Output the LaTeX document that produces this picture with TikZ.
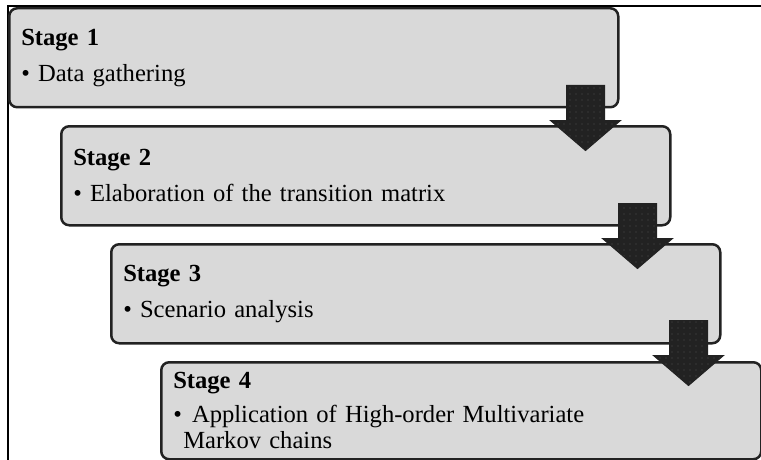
\documentclass[tikz,border=0pt]{standalone}
\usepackage{fontspec}
\setmainfont{Liberation Serif}
\usetikzlibrary{calc,patterns.meta}
\definecolor{boxgray}{HTML}{D9D9D9}
\definecolor{arrowdark}{HTML}{222222}
\tikzset{
  stagebox/.style={draw=arrowdark, line width=2.5pt, fill=boxgray, rounded corners=8pt,
    anchor=north west, minimum height=99pt, text width=585pt, inner xsep=12pt,
    align=left, font=\fontsize{24.6}{26}\selectfont},
  downarrow/.pic={
    \draw[arrowdark, line width=1pt, preaction={fill=arrowdark},
      pattern={Dots[distance=6pt,radius=0.45pt]}, pattern color=gray!70]
      (-19,0) -- (19,0) -- (19,35) -- (35,35) -- (0,65) -- (-35,35) -- (-19,35) -- cycle;}
}
\begin{document}
\begin{tikzpicture}[x=1pt,y=-1pt]
    \useasboundingbox (0,0) rectangle (761,460);
    % frame
    \draw[line width=1.2pt] (761,6) -- (8,6) -- (8,460);
    % stages
    \node[stagebox] (s1) at (8,7) {\textbf{Stage 1}\\[10pt]\textbullet{} Data gathering};
    \node[stagebox] (s2) at (60,125) {\textbf{Stage 2}\\[10pt]\textbullet{} Elaboration of the transition matrix};
    \node[stagebox] (s3) at (110,243) {\textbf{Stage 3}\\[10pt]\textbullet{} Scenario analysis};
    \node[stagebox, text width=576pt, minimum height=97pt] (s4) at (160,361)
      {\textbf{Stage 4}\\[8pt]\textbullet{} \kern2pt Application of High-order Multivariate\\\hspace*{10pt}Markov chains};
    % block arrows between stages
    \pic at ($(s1.south east)+(-34,-23)$) {downarrow};
    \pic at ($(s2.south east)+(-34,-23)$) {downarrow};
    \pic at ($(s3.south east)+(-33,-24)$) {downarrow};
\end{tikzpicture}
\end{document}
